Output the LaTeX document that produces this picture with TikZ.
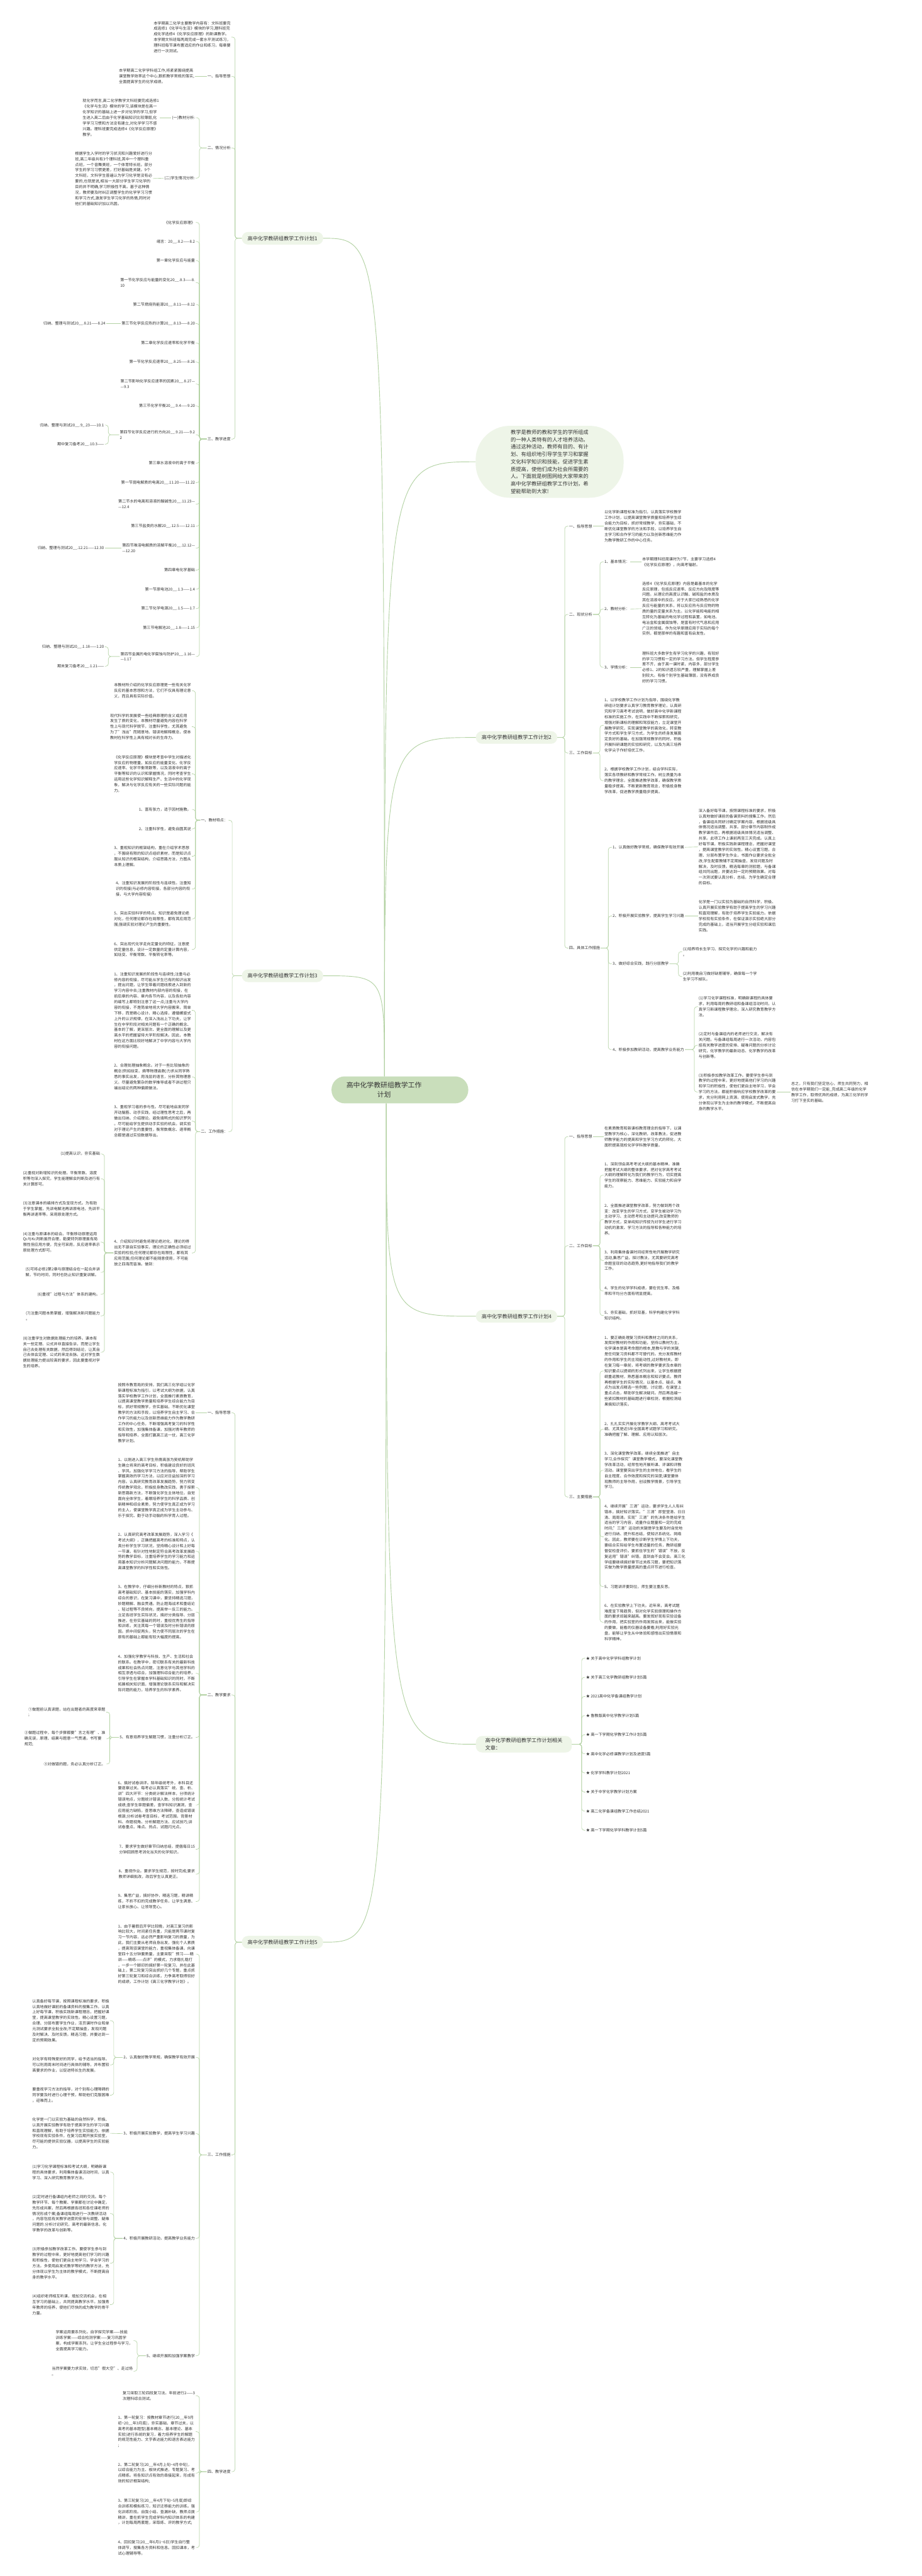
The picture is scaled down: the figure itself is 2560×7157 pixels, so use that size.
\documentclass[tikz,border=0pt]{standalone}
\usepackage{fontspec}
\setmainfont{Noto Sans CJK SC}
\definecolor{ink}{HTML}{333333}
\definecolor{branch}{HTML}{B3D2A3}
\definecolor{rootfill}{HTML}{C9DEBB}
\definecolor{topicfill}{HTML}{EEF5E8}

\begin{document}
\begin{tikzpicture}[x=1pt,y=-1pt,
  root/.style={fill=rootfill,rounded corners=37pt,minimum width=380pt,minimum height=75pt},
  roottext/.style={font=\fontsize{19}{26}\selectfont,align=center,text=ink},
  topic/.style={fill=topicfill,rounded corners=17pt,inner xsep=16pt,minimum height=35pt,font=\fontsize{14.3}{20.5}\selectfont,text=ink},
  intro/.style={fill=topicfill,rounded corners=95pt,minimum width=411pt,minimum height=200pt,align=left,font=\fontsize{14.4}{20.5}\selectfont,text=ink},
  txt/.style={font=\fontsize{10.7}{15.5}\selectfont,align=left,inner xsep=2pt,inner ysep=1pt,text=ink},
  lt/.style={txt,anchor=east},
  rt/.style={txt,anchor=west},
  trunk/.style={draw=branch,line width=1.6pt},
  link/.style={draw=branch,line width=1.1pt,rounded corners=7pt}]

\fill[white] (0,0) rectangle (2560,7157);

% centre
\node[root] (ct) at (1111,3028) {};
\node[roottext] (ctt) at (1067,3028) {高中化学教研组教学工作\\计划};
\coordinate (ctu) at ([xshift=-43pt]ct.north);
\coordinate (ctd) at ([xshift=-38pt]ct.south);

% first level
\node[topic,anchor=east] (p1) at (898,662) {高中化学教研组教学工作计划1};
\node[intro] (intro) at (1527,1283) {教学是教师的教和学生的学所组成\\的一种人类特有的人才培养活动。\\通过这种活动，教师有目的、有计\\划、有组织地引导学生学习和掌握\\文化科学知识和技能，促进学生素\\质提高，使他们成为社会所需要的\\人。下面就是树图网给大家带来的\\高中化学教研组教学工作计划，希\\望能帮助到大家!};
\node[topic,anchor=west] (p2) at (1322,2049) {高中化学教研组教学工作计划2};
\node[topic,anchor=east] (p3) at (898,2711) {高中化学教研组教学工作计划3};
\node[topic,anchor=west] (p4) at (1322,3657) {高中化学教研组教学工作计划4};
\node[topic,anchor=west,align=left,inner xsep=26pt,inner ysep=6pt] (rel) at (1322,4846) {高中化学教研组教学工作计划相关\\文章：};
\node[topic,anchor=east] (p5) at (898,5396) {高中化学教研组教学工作计划5};

\draw[trunk] (ctu) .. controls (ctu |- p1.east) .. (p1.east);
\draw[trunk] (ctu) .. controls (ctu |- intro.west) .. (intro.west);
\draw[trunk] (ctu) .. controls (ctu |- p2.west) .. (p2.west);
\draw[trunk] (ctu) .. controls (ctu |- p3.east) .. (p3.east);
\draw[trunk] (ctd) .. controls (ctd |- p4.west) .. (p4.west);
\draw[trunk] (ctd) .. controls (ctd |- rel.west) .. (rel.west);
\draw[trunk] (ctd) .. controls (ctd |- p5.east) .. (p5.east);

% plan 1
\node[lt] (a0) at (643,103) {本学期高二化学主要教学内容有：文科班要完\\成选修1《化学与生活》模块的学习,理科班完\\成化学选修4《化学反应原理》的新课教学。\\本学期文科班每两周完成一套水平测试练习，\\理科班每节课布置适应的作业和练习，每章要\\进行一次测试。};
\node[lt] (a1) at (643,212) {一、指导思想};
\node[lt] (a1t) at (542,212) {本学期高二化学学科组工作,将紧紧围绕提高\\课堂教学效率这个中心,狠抓教学常规的落实,\\全面提高学生的化学成绩。};
\node[lt] (a2) at (643,411) {二、情况分析};
\node[lt] (a21) at (544,327) {(一)教材分析:};
\node[lt] (a21t) at (444,327) {就化学而言,高二化学教学文科班要完成选修1\\《化学与生活》模块的学习,该模块是在高一\\化学知识的基础上进一步对化学的学习,但学\\生进入高二后由于化学基础知识比较薄弱,化\\学学习习惯和方法没有建立,对化学学习不感\\兴趣。理科班要完成选修4《化学反应原理》\\教学。};
\node[lt] (a22) at (544,495) {(二)学生情况分析:};
\node[lt] (a22t) at (425,496) {根据学生入学时的学习状况和兴趣爱好进行分\\班,高二年级共有3个理科班,其中一个理科重\\点班，一个音舞美班，一个体育特长班。部分\\学生的学习习惯更差，打好基础是关键。9个\\文科班，文科学生普遍认为学习化学是没有必\\要的,也就是说,相当一大部分学生学习化学的\\目的并不明确,学习积极性不高。基于这种情\\况，教师要及时纠正调整学生的化学学习习惯\\和学习方式,激发学生学习化学的热情,同时对\\他们的基础知识加以巩固。};
\node[lt] (a3) at (643,1220) {三、教学进度};
\node[lt] (a301) at (544,618) {《化学反应原理》};
\node[lt] (a302) at (544,671) {绪言：20\_\_.8.2——8.2};
\node[lt] (a303) at (544,724) {第一章化学反应与能量};
\node[lt] (a304) at (544,785) {第一节化学反应与能量的变化20\_\_.8.3——8.\\10};
\node[lt] (a305) at (544,846) {第二节燃烧热能源20\_\_.8.11——8.12};
\node[lt] (a306) at (544,899) {第三节化学反应热的计算20\_\_.8.13——8.20};
\node[lt] (a307) at (544,953) {第二章化学反应速率和化学平衡};
\node[lt] (a308) at (544,1006) {第一节化学反应速率20\_\_.8.25——8.26};
\node[lt] (a309) at (544,1067) {第二节影响化学反应速率的因素20\_\_.8.27—\\—9.3};
\node[lt] (a310) at (544,1128) {第三节化学平衡20\_\_.9.4——9.20};
\node[lt] (a311) at (544,1208) {第四节化学反应进行的方向20\_\_.9.21——9.2\\2};
\node[lt] (a312) at (544,1287) {第三章水溶液中的离子平衡};
\node[lt] (a313) at (544,1341) {第一节弱电解质的电离20\_\_.11.20——11.22};
\node[lt] (a314) at (544,1401) {第二节水的电离和溶液的酸碱性20\_\_.11.23—\\—12.4};
\node[lt] (a315) at (544,1462) {第三节盐类的水解20\_\_.12.5——12.11};
\node[lt] (a316) at (544,1523) {第四节难溶电解质的溶解平衡20\_\_.12.12—\\—12.20};
\node[lt] (a317) at (544,1584) {第四章电化学基础};
\node[lt] (a318) at (544,1637) {第一节原电池20\_\_.1.3——1.4};
\node[lt] (a319) at (544,1691) {第二节化学电源20\_\_.1.5——1.7};
\node[lt] (a320) at (544,1744) {第三节电解池20\_\_.1.8——1.15};
\node[lt] (a321) at (544,1824) {第四节金属的电化学腐蚀与防护20\_\_.1.16—\\—1.17};
\node[lt] (a306a) at (295,899) {归纳、整理与测试20\_\_.8.21——8.24};
\node[lt] (a311a) at (291,1181) {归纳、整理与测试20\_\_.9\_.23——10.1};
\node[lt] (a311b) at (291,1234) {期中复习备考20\_\_.10.3——};
\node[lt] (a316a) at (291,1523) {归纳、整理与测试20\_\_.12.21——12.30};
\node[lt] (a321a) at (291,1797) {归纳、整理与测试20\_\_.1.18——1.20};
\node[lt] (a321b) at (291,1851) {期末复习备考20\_\_.1.21——};

\foreach \c in {a0,a1,a2,a3} \draw[link] (p1.west) -| ([xshift=10pt]\c.east) -- (\c.east);
\draw[link] (a1.west) -- (a1t.east);
\foreach \c in {a21,a22} \draw[link] (a2.west) -| ([xshift=10pt]\c.east) -- (\c.east);
\draw[link] (a21.west) -- (a21t.east);
\draw[link] (a22.west) -- (a22t.east);
\foreach \c in {a301,a302,a303,a304,a305,a306,a307,a308,a309,a310,a311,a312,a313,a314,a315,a316,a317,a318,a319,a320,a321}
  \draw[link] (a3.west) -| ([xshift=10pt]\c.east) -- (\c.east);
\draw[link] (a306.west) -- (a306a.east);
\foreach \c in {a311a,a311b} \draw[link] (a311.west) -| ([xshift=10pt]\c.east) -- (\c.east);
\draw[link] (a316.west) -- (a316a.east);
\foreach \c in {a321a,a321b} \draw[link] (a321.west) -| ([xshift=10pt]\c.east) -- (\c.east);

% plan 2
\node[rt] (b1) at (1579,1462) {一、指导思想};
\node[rt] (b1t) at (1677,1462) {以化学新课程标准为指引，认真落实学校教学\\工作计划，以提高课堂教学质量和培养学生综\\合能力为目标，抓好常规教学，夯实基础，不\\断优化课堂教学的方法和手段，以培养学生自\\主学习和合作学习的能力以及创新思维能力作\\为教学教研工作的中心任务。};
\node[rt] (b2) at (1579,1707) {二、现状分析};
\node[rt] (b21) at (1677,1561) {1、基本情况：};
\node[rt] (b21t) at (1782,1561) {本学期理科班周课时为7节，主要学习选修4\\《化学反应原理》，向高考辐射。};
\node[rt] (b22) at (1677,1692) {2、教材分析：};
\node[rt] (b22t) at (1782,1691) {选修4《化学反应原理》内容是最基本的化学\\反应原理，包括反应速率、反应方向及限度等\\问题。从理论的高度认识酸、碱和盐的本质及\\其在溶液中的反应。对于大家已经熟悉的化学\\反应与能量的关系，将以反应热与反应物的物\\质的量的定量关系为主。以化学能和电能的相\\互转化为基础的电化学过程和装置，如电池、\\电冶金和金属腐蚀等，是富有时代气息和应用\\广泛的领域。作为化学原理应用于实际的每个\\实例，都是那样的有趣和富有启发性。};
\node[rt] (b23) at (1677,1854) {3、学情分析：};
\node[rt] (b23t) at (1782,1854) {理科班大多数学生有学习化学的兴趣，有较好\\的学习习惯和一定的学习方法。但学生程度参\\差不齐，由于高一课时紧，内容多，部分学生\\必修1、2的知识遗忘较严重，理解掌握上差\\别较大。有极个别学生基础薄弱，没有养成良\\好的学习习惯。};
\node[rt] (b3) at (1579,2092) {三、工作目标};
\node[rt] (b31) at (1677,2015) {1、以学校教学工作计划为指导，围绕化学教\\研组计划要求认真学习教育教学理论，认真研\\究和学习高考考试说明，做好高中化学新课程\\标准的实施工作，在实践中不断探索和研究，\\增强对新课标的理解和驾驭能力，立足课堂开\\展教学研究，实现课堂教学的高效化，转变教\\学方式和学生学习方式，为学生的终身发展奠\\定良好的基础。在加强常规教学的同时，积极\\开展科研课题的实验和研究，以及为高三培养\\化学尖子作好培优工作。};
\node[rt] (b32) at (1677,2169) {2、根据学校教学工作计划，结合学科实际，\\落实各项教研和教学常规工作。树立质量为本\\的教学理念，全面推进教学改革，确保教学质\\量稳步提高。不断更新教育观念，积极投身教\\学改革，促进教学质量稳步提高。};
\node[rt] (b4) at (1579,2634) {四、具体工作措施};
\node[rt] (b41) at (1700,2354) {1、认真做好教学常规，确保教学有效开展};
\node[rt] (b41t) at (1939,2353) {深入备好每节课，按照课程标准的要求，积极\\认真地做好课前的备课资料的搜集工作。然后\\，备课组共同研讨确定学案内容，根据班级具\\体情况适当调整、共享。部分章节内容制作成\\教学课件后，再根据班级具体情况适当调整、\\共享。此项工作上课前两至三天完成。认真上\\好每节课，积极实践新课程理念，把握好课堂\\，提高课堂教学的实效性。精心设置习题，合\\理、分层布置学生作业，书面作业要求全批全\\改;学生配套教辅不定期抽查，发现问题及时\\解决，及时反馈。精选每章的测验题，与备课\\组共同出题，并要达到一定的预期效果。对每\\一次测试要认真分析，总结，为学生确定合理\\的目标。};
\node[rt] (b42) at (1700,2545) {2、积极开展实验教学，提高学生学习兴趣};
\node[rt] (b42t) at (1939,2545) {化学是一门以实验为基础的自然科学，积极、\\认真开展实验教学有助于提高学生的学习兴趣\\和直观理解，有助于培养学生实验能力。依据\\学校现有实验条件，在保证演示实验绝大部分\\完成的基础上，适当开展学生分组实验和课后\\实践。};
\node[rt] (b43) at (1700,2678) {3、做好综合实践，践行分层教学};
\node[rt] (b43a) at (1895,2644) {(1)培养特长生学习、探究化学的兴趣和能力\\。};
\node[rt] (b43b) at (1895,2713) {(2)利用晚自习做好缺差辅导，确保每一个学\\生学习不掉队。};
\node[rt] (b44) at (1700,2916) {4、积极参加教研活动，提高教学业务能力};
\node[rt] (b44a) at (1939,2797) {(1)学习化学课程标准，明确新课程的具体要\\求，利用每周的教研组和备课组活动时间，认\\真学习新课程教学理念，深入研究教育教学方\\法。};
\node[rt] (b44b) at (1939,2904) {(2)定时与备课组内的老师进行交流，解决有\\关问题。与备课组每周进行一次活动，内容包\\括有关教学进度的安排、疑难问题的分析讨论\\研究，化学教学的最新动态、化学教学的改革\\与创新等。};
\node[rt] (b44c) at (1939,3034) {(3)积极参加教学改革工作。要使学生参与到\\教学的过程中来，更好地提高他们学习的兴趣\\和学习的积极性，使他们更自主地学习，学会\\学习的方法。都能积极响应学校教学改革的要\\求，充分利用网上资源，使用启发式教学，充\\分体现以学生为主体的教学模式，不断提高自\\身的教学水平。};
\node[rt] (b44d) at (2196,3034) {总之，只有我们坚定信心，师生共同努力，相\\信在本学期我们一定能\_完成高二年级的化学\\教学工作，取得优异的成绩，为高三化学的学\\习打下坚实的基础。};

\foreach \c in {b1,b2,b3,b4} \draw[link] (p2.east) -| ([xshift=-10pt]\c.west) -- (\c.west);
\draw[link] (b1.east) -- (b1t.west);
\foreach \c in {b21,b22,b23} \draw[link] (b2.east) -| ([xshift=-10pt]\c.west) -- (\c.west);
\draw[link] (b21.east) -- (b21t.west);
\draw[link] (b22.east) -- (b22t.west);
\draw[link] (b23.east) -- (b23t.west);
\foreach \c in {b31,b32} \draw[link] (b3.east) -| ([xshift=-10pt]\c.west) -- (\c.west);
\foreach \c in {b41,b42,b43,b44} \draw[link] (b4.east) -| ([xshift=-10pt]\c.west) -- (\c.west);
\draw[link] (b41.east) -- (b41t.west);
\draw[link] (b42.east) -- (b42t.west);
\foreach \c in {b43a,b43b} \draw[link] (b43.east) -| ([xshift=-10pt]\c.west) -- (\c.west);
\foreach \c in {b44a,b44b,b44c} \draw[link] (b44.east) -| ([xshift=-10pt]\c.west) -- (\c.west);
\draw[link] (b44c.east) -- (b44d.west);

% plan 3
\node[lt] (c1) at (635,2279) {一、教材特点：};
\node[lt] (c101) at (533,1919) {本教材所介绍的化学反应原理是一些有关化学\\反应的基本思想和方法，它们不仅具有理论意\\义，而且具有实际价值。};
\node[lt] (c102) at (533,2019) {现代科学的发展使一些经典原理的含义或应用\\发生了质的变化，本教材尽量避免内容在科学\\性上与现代科学脱节，注重科学性，尤其避免\\为了"浅出"而随意地、错误地解释概念，使本\\教材在科学性上具有相对长的生命力。};
\node[lt] (c103) at (533,2150) {《化学反应原理》模块是考查中学生对描述化\\学反应的物理量，如反应的能量变化、化学反\\应速率、化学平衡常数等，以及溶液中的离子\\平衡等知识的认识和掌握情况，同时考查学生\\运用这些化学知识解释生产、生活中的化学现\\象，解决与化学反应有关的一些实际问题的能\\力。};
\node[lt] (c104) at (533,2249) {1、富有张力，适于因材施教。};
\node[lt] (c105) at (533,2303) {2、注重科学性，避免自圆其说};
\node[lt] (c106) at (533,2379) {3、重视知识的框架结构，重在介绍学术思想\\，不围绕有限的知识点组织素材，而是知识点\\服从知识的框架结构，介绍思路方法，力图从\\本质上理解。};
\node[lt] (c107) at (533,2470) {4、注重知识发展的阶段性与连续性。注重知\\识的衔接(与必修内容衔接，各部分内容的衔\\接，与大学内容衔接)};
\node[lt] (c108) at (533,2553) {5、突出实验科学的特点。知识是避免理论绝\\对化，任何理论都存在局限性，都有其应用范\\围;强调实验对理论产生的重要性。};
\node[lt] (c109) at (533,2638) {6、突出现代化学走向定量化的特征。注意提\\供定量信息，设计一定数量的定量计算内容，\\如焓变、平衡常数、平衡转化率等。};
\node[lt] (c2) at (635,3144) {二、工作措施：};
\node[lt] (c21) at (533,2807) {1、注重知识发展的阶段性与连续性;注重与必\\修内容的衔接，尽可能从学生已有的知识出发\\，提出问题，让学生带着问题线索进入到新的\\学习内容中去;注重教材内部内容的衔接，在\\前后章的内容、章内各节内容，以及各处内容\\的编写上都特别注意了这一点;注重与大学内\\容的衔接，不是简单地将大学内容搬来，简单\\下移，而是精心设计、精心选择，遵循螺旋式\\上升的认识规律，在深入浅出上下功夫，让学\\生在中学阶段对相关问题有一个正确的概念、\\基本的了解，更深层次、更全面的理解以及更\\高水平的把握留待大学阶段解决。因此，本教\\材在这方面比较好地解决了中学内容与大学内\\容的衔接问题。};
\node[lt] (c22) at (533,2992) {2、合理处理抽象概念。对于一些比较抽象的\\概念(例如焓变、熵等物理函数)力求从同学熟\\悉的事实出发，用浅显的语言，分析其物理意\\义。尽量避免繁杂的数学推导或者不讲过程只\\端出结论的两种偏颇做法。};
\node[lt] (c23) at (533,3115) {3、重视学习者的参与性。尽可能地启发同学\\开动脑筋、动手实践，经过理性思考之后，再\\做出归纳、介绍理论。避免填鸭式的知识罗列\\。尽可能给学生提供动手实验的机会。调实验\\对于理论产生的重要性，衡常数概念、速率概\\念都是通过实验数据导出。};
\node[lt] (c24) at (533,3481) {4、介绍知识时避免将理论绝对化，理论的得\\出无不源自实验事实，理论的正确性必须经过\\实验的检验;任何理论都存在局限性，都有其\\应用范围;任何理论都不能随意使用，不可能\\放之四海而皆准。做到：};
\node[lt] (c241) at (280,3206) {(1)提高认识，夯实基础};
\node[lt] (c242) at (280,3275) {(2)重视对新增知识的处理。平衡常数、溶度\\积等勿深入探究，学生能理解会判断及进行有\\关计算即可。};
\node[lt] (c243) at (280,3359) {(3)注意课本的编排方式及呈现方式。为有助\\于学生掌握，先讲电解池再讲原电池，先讲平\\衡再讲速率等。采用原处理方式。};
\node[lt] (c244) at (280,3451) {(4)注重与原课本的结合。平衡移动原理运用\\Qc与Kc判断虽然合理，勒夏特列原理虽有局\\限性但应用方便，完全可采用，反应速率表示\\原处理方式即可。};
\node[lt] (c245) at (280,3535) {(5)可将必修2第2章与原理结合在一起合并讲\\解，节约时间，同时也防止知识重复讲解。};
\node[lt] (c246) at (280,3596) {(6)重视"过程与方法"体系的建构。};
\node[lt] (c247) at (280,3656) {(7)注重问题本质掌握，增强解决新问题能力\\。};
\node[lt] (c248) at (280,3757) {(8)注重学生对数据处理能力的培养。课本有\\关一些定理、公式并非直接告诉，而是让学生\\自己去处理有关数据，然后得到结论，让其自\\己去体会定理、公式的来龙去脉。这对学生数\\据处理能力提出较高的要求，因此要重视对学\\生的培养。};

\foreach \c in {c1,c2} \draw[link] (p3.west) -| ([xshift=10pt]\c.east) -- (\c.east);
\foreach \c in {c101,c102,c103,c104,c105,c106,c107,c108,c109} \draw[link] (c1.west) -| ([xshift=10pt]\c.east) -- (\c.east);
\foreach \c in {c21,c22,c23,c24} \draw[link] (c2.west) -| ([xshift=10pt]\c.east) -- (\c.east);
\foreach \c in {c241,c242,c243,c244,c245,c246,c247,c248} \draw[link] (c24.west) -| ([xshift=10pt]\c.east) -- (\c.east);

% plan 4
\node[rt] (d1) at (1579,3158) {一、指导思想};
\node[rt] (d1t) at (1677,3158) {在素质教育和新课标教育理念的指导下，以课\\堂教学为核心，深化教研，改革教法，促进教\\师教学能力的提高和学生学习方式的转化，大\\面积提高我校化学学科教学质量。};
\node[rt] (d2) at (1579,3461) {二、工作目标};
\node[rt] (d21) at (1677,3265) {1、深刻领会高考考试大纲的基本精神，准确\\把握考试大纲的整体要求，把对化学高考考试\\大纲的理解转化为我们的教学行为，切实提高\\学生的观察能力、思维能力、实验能力和自学\\能力。};
\node[rt] (d22) at (1677,3388) {2、全面推进课堂教学改革，努力做到两个改\\变：改变学生的学习方式，变学生被动学习为\\主动学习、主动思考和主动提问;改变教师的\\教学方式，变单纯知识传授为对学生进行学习\\动机的激发、学习方法的指导和各种能力的培\\养。};
\node[rt] (d23) at (1677,3502) {3、利用集体备课时间经常性地开展教学研究\\活动,集思广益，探讨教法，尤其要研究高考\\命题呈现的动态趋势,更好地指导我们的教学\\工作。};
\node[rt] (d24) at (1677,3587) {4、学生的化学学科成绩，要在优生率、及格\\率和平均分方面有明显提高。};
\node[rt] (d25) at (1677,3655) {5、夯实基础，抓好双基，科学构建化学学科\\知识结构。};
\node[rt] (d3) at (1579,4159) {三、主要措施};
\node[rt] (d31) at (1677,3809) {1、要正确处理复习资料和教材之间的关系，\\发挥好教材的作用和功能，坚持以教材为主，\\化学课本是高考命题的根本,是教与学的关键,\\是任何复习资料都不可替代的。充分发挥教材\\的作用和学生的主观能动性,过好教材关。即\\在复习每一章前，将考纲的教学要求及本章的\\知识要点以提纲的形式列出来，让学生根据提\\纲重返教材，熟悉基本概念和知识要点。教师\\再根据学生的实际情况，以基本点、疑点、难\\点为出发点精选一些例题，讨论题，在课堂上\\重点点击，帮助学生解决疑问。然后再选编一\\些紧扣教材的基础题进行章检测，根据检测结\\果搞知识落实。};
\node[rt] (d32) at (1677,3971) {2、扎扎实实开展化学教学大纲、高考考试大\\纲、尤其是近5年全国高考试题学习和研究。\\准确把握了解、理解、应用认知层次。};
\node[rt] (d33) at (1677,4085) {3、深化课堂教学改革。继续全面推进"自主\\学习,合作探究"课堂教学模式，要深化课堂教\\学改革活动，经常性地开展听课、评课和评教\\活动。课堂要突出学生的主体地位，看学生的\\自主程度、合作效度和探究的深度;课堂要体\\现教师的主导作用，创设教学情景，引导学生\\学习。};
\node[rt] (d34) at (1677,4270) {4、继续开展"三清"运动，要求学生人人有纠\\错本，搞好知识落实。"三清"即堂堂清、日日\\清、周周清。实现"三清"的先决条件是给学生\\适当的学习内容，适量作业题量和一定的完成\\时间;"三清"运动的关键是学生要及时自觉地\\进行归纳、提升和总结，使知识系统化、网络\\化。因此，教师要在诊断学生学情上下功夫，\\要结合实际给学生布置适量的任务，教研组要\\督促检查评价。要抓住学生的"错误"不放，反\\复运用"错误"纠错，直到由不会变会。高三化\\学组要继续搞好章节过关练习题，要把知识落\\实做为教学质量提高的重点环节进行检查。};
\node[rt] (d35) at (1677,4408) {5、习题讲评要到位，师生要注重反思。};
\node[rt] (d36) at (1677,4507) {6、在实验教学上下功夫。近年来，高考试题\\难度呈下降趋势，但对化学实验原理和操作方\\面的要求却越来越高。要发挥好现有实验设备\\的作用，把实验室的作用发挥出来，能做实验\\的要做，能看的仪器设备要看;利用好实验光\\盘，能够让学生从中体验和感悟出实验情景和\\科学精神。};

\foreach \c in {d1,d2,d3} \draw[link] (p4.east) -| ([xshift=-10pt]\c.west) -- (\c.west);
\draw[link] (d1.east) -- (d1t.west);
\foreach \c in {d21,d22,d23,d24,d25} \draw[link] (d2.east) -| ([xshift=-10pt]\c.west) -- (\c.west);
\foreach \c in {d31,d32,d33,d34,d35,d36} \draw[link] (d3.east) -| ([xshift=-10pt]\c.west) -- (\c.west);

% related articles
\foreach \t [count=\i] in {关于高中化学学科组教学计划,关于高三化学教研组教学计划5篇,2021高中化学备课组教学计划,鲁教版高中化学教学计划5篇,高一下学期化学教学工作计划5篇,高中化学必修课教学计划及进度5篇,化学学科教学计划2021,关于中学化学教学计划方案,高二化学备课组教学工作总结2021,高一下学期化学学科教学计划5篇}
  \node[rt] (r\i) at (1626,{4554+53.1*\i}) {★ \t};
\foreach \i in {1,...,10} \draw[link] (rel.east) -| ([xshift=-10pt]r\i.west) -- (r\i.west);

% plan 5
\node[lt] (e1) at (643,3925) {一、指导思想};
\node[lt] (e1t) at (544,3925) {按照市教育局的安排，我们高三化学组以化学\\新课程标准为指引，以考试大纲为依据，认真\\落实学校教学工作计划，全面推行素质教育，\\以提高课堂教学质量和培养学生综合能力为目\\标，抓好常规教学，夯实基础，不断优化课堂\\教学的方法和手段，以培养学生自主学习、合\\作学习的能力以及创新思维能力作为教学教研\\工作的中心任务，不断增强高考复习的科学性\\和实效性，加强集体备课，加强对青年教师的\\指导和培养，全面打赢高三这一仗，高三化学\\教学计划。};
\node[lt] (e2) at (643,4709) {二、教学要求};
\node[lt] (e21) at (544,4133) {1、以刚进入高三学生热情高涨为契机帮助学\\生确立将来的高考目标，积极建设良好的班风\\、学风。加强化学学习方法的指导，帮助学生\\掌握高效的学习方法，以应对日益加深的学习\\内容。认真研究教育改革发展趋势，努力转变\\传统教学观念，积极投身教改实践，勇于探索\\新思路新方法，不断强化学生主体地位，自觉\\面向全体学生，着眼培养学生的科学品质、创\\新精神和综合素质，努力使学生真正成为学习\\的主人，使课堂教学真正成为学生主动参与、\\乐于探究、勤于动手动脑的科学育人过程。};
\node[lt] (e22) at (544,4310) {2、认真研究高考改革发展趋势，深入学习《\\考试大纲》，正确把握高考的标准和特点，认\\真分析学生学习状况，坚持精心设计和上好每\\一节课，有针对性地制定符合高考改革发展趋\\势的教学目标，注重培养学生的学习能力和运\\用基本知识分析问题解决问题的能力，不断提\\高课堂教学的科学性和实效性。};
\node[lt] (e23) at (544,4479) {3、在教学中，仔细分析新教材的特点，狠抓\\高考基础知识、基本技能的落实，加强学科内\\综合的意识，在复习课中，要坚持精选习题，\\妙题精解、融会贯通。防止题海战术和重结论\\、轻过程等不良倾向，提高举一反三的能力。\\立足各班学生实际状况，搞好分类指导、分层\\推进，在夯实基础的同时，重视优秀生的指导\\和训练，关注其每一个错误及时分析错误的原\\因。抓中间促两头，努力使不同层次的学生在\\原有的基础上都能有较大幅度的提高。};
\node[lt] (e24) at (544,4649) {4、加强化学教学与科技、生产、生活和社会\\的联系。在教学中，密切联系有关的最新科技\\成果和社会热点问题，注意化学与其他学科的\\相互渗透与综合，加强理科综合能力的培养，\\引导学生在掌握本学科基础知识的同时，不断\\拓展相关知识面，增强理论联系实际和解决实\\际问题的能力，培养学生的科学素养。};
\node[lt] (e25) at (544,4827) {5、有意培养学生解题习惯，注重分析订正。};
\node[lt] (e25a) at (295,4757) {①做题前认真读题，站在出题者的高度来审题\\;};
\node[lt] (e25b) at (295,4831) {②做题过程中，每个步骤都要"言之有理"、准\\确无误，原理、结果与题意一气贯通，书写要\\规范;};
\node[lt] (e25c) at (295,4901) {③对做错的题，务必认真分析订正。};
\node[lt] (e26) at (544,5015) {6、搞好试卷讲评。除年级统考外，本科目还\\要逐章过关。每考必认真落实"统、查、析、\\讲"四大环节：分类统计解法样本，分项统计\\错误地点，分题统计错误人数，分段统计考试\\成绩;查学生审题偏差，查学科知识漏洞，查\\应用能力缺陷，查思维方法障碍，查造成错误\\根源;分析试卷考查目标，考试范围，背景材\\料、命题视角、分析解题方法、应试技巧;讲\\试卷重点、难点、热点、试题闪光点。};
\node[lt] (e27) at (544,5138) {7、要求学生做好章节归纳总结，提倡每日15\\分钟回顾思考消化当天的化学知识。};
\node[lt] (e28) at (544,5207) {8、重视作业。要求学生规范，按时完成;要求\\教师详细批改，改后学生认真更正。};
\node[lt] (e29) at (544,5283) {9、集思广益，搞好协作，精选习题，精讲精\\练，不折不扣的完成教学任务，让学生满意、\\让家长放心、让领导宽心。};
\node[lt] (e3) at (643,5987) {三、工作措施};
\node[lt] (e31) at (544,5429) {1、由于暑假后开学比较晚，对高三复习的影\\响比较大，时间紧任务重，只能是两节课时复\\习一节内容，这必然严重影响复习的质量，为\\此，我们主要从老师自身出发，强化个人素质\\，提高驾驭课堂的能力，重视集体备课，向课\\堂四十五分钟要质量，主要采取"预习——精\\讲——精练——点评"的模式，力求稳扎稳打\\，一步一个脚印的搞好第一轮复习，并在此基\\础上，第二轮复习突出抓好几个专题，重点抓\\好第三轮复习和综合训练，力争高考取得较好\\的成绩，工作计划《高三化学教学计划》。};
\node[lt] (e32) at (544,5716) {2、认真做好教学常规，确保教学有效开展};
\node[lt] (e32a) at (306,5614) {认真备好每节课，按照课程标准的要求，积极\\认真地做好课前的备课资料的搜集工作。认真\\上好每节课，积极实践新课程理念，把握好课\\堂，提高课堂教学的实效性。精心设置习题，\\合理、分层布置学生作业，活页课时作业和单\\元测试要求全批全改;不定期抽查，发现问题\\及时解决、及时反馈。精选习题，并要达到一\\定的预期效果。};
\node[lt] (e32b) at (306,5737) {对化学有特殊爱好的同学，给予适当的指导。\\可以利用周末时间进行具体的辅导，并布置较\\高要求的作业，以促进特长生的发展。};
\node[lt] (e32c) at (306,5821) {要重视学习方法的指导，对个别有心理障碍的\\同学要及时进行心理干预，帮助他们克服困难\\，迎难而上。};
\node[lt] (e33) at (544,5928) {3、积极开展实验教学，提高学生学习兴趣};
\node[lt] (e33a) at (306,5927) {化学是一门以实验为基础的自然科学，积极、\\认真开展实验教学有助于提高学生的学习兴趣\\和直观理解，有助于培养学生实验能力。依据\\学校现有实验条件，在复习后期开放实验室，\\尽可能的提供实验仪器，以提高学生的实验能\\力。};
\node[lt] (e34) at (544,6219) {4、积极开展教研活动，提高教学业务能力};
\node[lt] (e34a) at (306,6035) {(1)学习化学课程标准和考试大纲，明确新课\\程的具体要求，利用集体备课活动时间，认真\\学习、深入研究教育教学方法。};
\node[lt] (e34b) at (306,6150) {(2)定时进行备课组内老师之间的交流。每个\\教学环节、每个教案、学案都在讨论中确定，\\先形成共案，然后再根据各班和各任课老师的\\情况形成个案;备课组每周进行一次教研活动\\，内容包括有关教学进度的安排与调整、疑难\\问题的.分析讨论研究，高考的最新信息，化\\学教学的改革与创新等。};
\node[lt] (e34c) at (306,6288) {(3)积极参加教学改革工作。要使学生参与到\\教学的过程中来，更好地提高他们学习的兴趣\\和积极性，使他们更自主地学习，学会学习的\\方法。多使用启发式教学等好的教学方法，充\\分体现以学生为主体的教学模式，不断提高自\\身的教学水平。};
\node[lt] (e34d) at (306,6403) {(4)组织老师相互听课，增加交流机会，在相\\互学习的基础上，共同提高教学水平。加强青\\年教师的培养，使他们尽快的成为教学的骨干\\力量。};
\node[lt] (e35) at (544,6545) {5、继续开展和加强学案教学};
\node[lt] (e35a) at (371,6503) {学案运用要系列化。自学探究学案——技能\\训练学案——综合检测学案——复习巩固学\\案，构成学案系列。让学生全过程参与学习，\\全面提高学习能力。};
\node[lt] (e35b) at (371,6588) {当然学案要力求实效，切忌"假大空"、走过场\\。};
\node[lt] (e4) at (643,6867) {四、教学进度};
\node[lt] (e41) at (544,6656) {复习采取三轮四段复习法。年前进行2——3\\次理科综合测试。};
\node[lt] (e42) at (544,6756) {1、第一轮复习：按教材章节进行(20\_\_年9月\\初\textasciitilde 20\_\_年3月底)，夯实基础，章节过关，以\\高考的基本题型(基本概念、基本理论、基本\\实验)进行系统的复习，着力培养学生的解题\\的规范性能力、文字表达能力和语言表达能力\\;};
\node[lt] (e43) at (544,6871) {2、第二轮复习(20\_\_年4月上旬\textasciitilde 4月中旬)，\\以综合能力为主、板块式推进，专题复习、考\\点精练。将各知识点有效的串接起来，形成有\\效的知识框架结构;};
\node[lt] (e44) at (544,6979) {3、第三轮复习(20\_\_年4月下旬\textasciitilde 5月底)即综\\合训练和模拟练习，知识迁移能力的训练。强\\化训练阶段。自我小结、查漏补缺，教师点拨\\精讲，重在抓学生完成学科内知识体系的构建\\，计划每周两套题，采取练、评的教学方式;};
\node[lt] (e45) at (544,7078) {4、回扣复习(20\_\_年6月1\textasciitilde 6日)学生自行整\\体调节，搜集各方资料和信息。回扣课本，考\\试心理辅导等。};

\foreach \c in {e1,e2,e3,e4} \draw[link] (p5.west) -| ([xshift=10pt]\c.east) -- (\c.east);
\draw[link] (e1.west) -- (e1t.east);
\foreach \c in {e21,e22,e23,e24,e25,e26,e27,e28,e29} \draw[link] (e2.west) -| ([xshift=10pt]\c.east) -- (\c.east);
\foreach \c in {e25a,e25b,e25c} \draw[link] (e25.west) -| ([xshift=10pt]\c.east) -- (\c.east);
\foreach \c in {e31,e32,e33,e34,e35} \draw[link] (e3.west) -| ([xshift=10pt]\c.east) -- (\c.east);
\foreach \c in {e32a,e32b,e32c} \draw[link] (e32.west) -| ([xshift=10pt]\c.east) -- (\c.east);
\draw[link] (e33.west) -- (e33a.east);
\foreach \c in {e34a,e34b,e34c,e34d} \draw[link] (e34.west) -| ([xshift=10pt]\c.east) -- (\c.east);
\foreach \c in {e35a,e35b} \draw[link] (e35.west) -| ([xshift=10pt]\c.east) -- (\c.east);
\foreach \c in {e41,e42,e43,e44,e45} \draw[link] (e4.west) -| ([xshift=10pt]\c.east) -- (\c.east);
\end{tikzpicture}
\end{document}
